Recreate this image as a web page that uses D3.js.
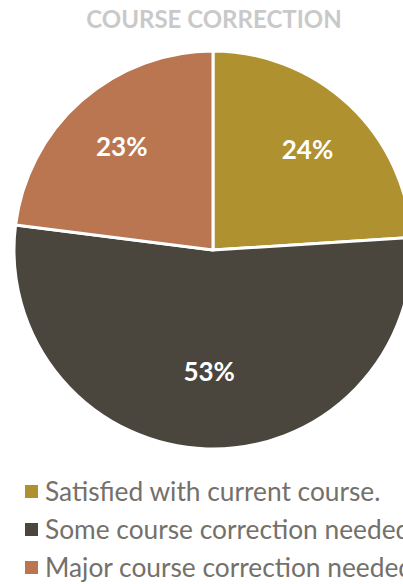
<!DOCTYPE html>
<html>
<head>
<meta charset="utf-8">
<script src="https://cdn.jsdelivr.net/npm/d3@7"></script>
<style>
  html, body { margin: 0; padding: 0; background: #fff; overflow: hidden; }
  svg { display: block; }
</style>
</head>
<body>
<svg id="chart" width="403" height="584"></svg>
<script>
// Survey responses on course correction
const categories = [
  "Satisfied with current course.",
  "Some course correction needed",
  "Major course correction needed"
];
const shares = [24, 53, 23];
const colors = ["#B0912F", "#4A463E", "#B97651"];

const svg = d3.select("#chart");

const cx = 213, cy = 250, R = 199;

svg.append("text")
  .attr("x", 214)
  .attr("y", 28)
  .attr("text-anchor", "middle")
  .attr("font-family", "Lato, sans-serif")
  .attr("font-weight", "bold")
  .attr("font-size", 24)
  .attr("fill", "#C9C9C9")
  .text("COURSE CORRECTION");

const pie = d3.pie().sort(null).value(d => d);
const arcs = pie(shares);
const arc = d3.arc().innerRadius(0).outerRadius(R);

const g = svg.append("g").attr("transform", `translate(${cx},${cy})`);

g.selectAll("path.slice")
  .data(arcs)
  .join("path")
  .attr("class", "slice")
  .attr("d", arc)
  .attr("fill", (d, i) => colors[i])
  .attr("stroke", "#fff")
  .attr("stroke-width", 3)
  .attr("stroke-linejoin", "round");

// label radius per slice: wide slice label sits nearer the centre
const labelArc = d => {
  const r = d.endAngle - d.startAngle > Math.PI ? 122 : 138;
  return d3.arc().innerRadius(r).outerRadius(r).centroid(d);
};

g.selectAll("text.val")
  .data(arcs)
  .join("text")
  .attr("class", "val")
  .attr("transform", d => `translate(${labelArc(d)})`)
  .attr("text-anchor", "middle")
  .attr("dy", "0.36em")
  .attr("font-family", "Lato, sans-serif")
  .attr("font-weight", "bold")
  .attr("font-size", 26)
  .attr("fill", "#fff")
  .text(d => d.data + "%");

const legend = svg.append("g");
const rowY = d3.scalePoint().domain(d3.range(categories.length)).range([492, 568]);

const rows = legend.selectAll("g.row")
  .data(categories)
  .join("g")
  .attr("class", "row")
  .attr("transform", (d, i) => `translate(0,${rowY(i)})`);

rows.append("rect")
  .attr("x", 25)
  .attr("y", -7)
  .attr("width", 13)
  .attr("height", 13)
  .attr("fill", (d, i) => colors[i]);

rows.append("text")
  .attr("x", 45)
  .attr("y", 0)
  .attr("dy", "0.35em")
  .attr("font-family", "Lato, sans-serif")
  .attr("font-size", 26.3)
  .attr("fill", "#74706A")
  .text(d => d);
</script>
</body>
</html>
